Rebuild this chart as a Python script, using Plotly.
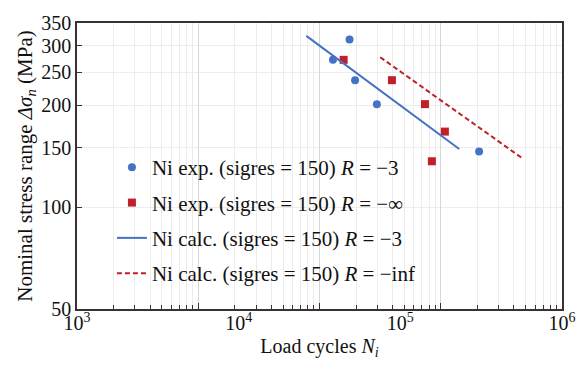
import plotly.graph_objects as go

# Data (x on the labelled scale)
exp_r3_N = [48500, 38300, 52500, 71600, 307000]
exp_r3_S = [312.9, 272.4, 237.2, 201.5, 145.9]
exp_rinf_N = [44600, 88700, 142000, 188600, 156700]
exp_rinf_S = [272.4, 237.2, 201.5, 167.2, 136.6]
calc_r3_N = [26200, 231400]
calc_r3_S = [320.6, 148.5]
calc_rinf_N = [75100, 573500]
calc_rinf_S = [277.3, 139.0]

x_tickvals = [1e3, 1e4, 1e5, 1e6]
x_ticktext = ["10<sup>3</sup>", "10<sup>4</sup>", "10<sup>5</sup>", "10<sup>6</sup>"]
y_tickvals = [50, 100, 150, 200, 250, 300, 350]

grid_major = [1e3, 1e4, 1e5, 1e6, 1e7]
grid_minor = [m * 10 ** e for e in range(3, 7) for m in range(2, 10)]

BLUE = "#4472c4"
RED = "#c0202a"
FONT = "Liberation Serif"
AX = "#3a3232"

fig = go.Figure()
# empty helper trace so the grid axis (x2) gets its own subplot layer
fig.add_trace(go.Scatter(x=[1e3, 1e7], y=[None, None], xaxis="x2", yaxis="y", mode="markers",
                         showlegend=False, hoverinfo="skip"))
fig.add_trace(go.Scatter(x=exp_r3_N, y=exp_r3_S, mode="markers", legendgroup="a",
                         name="Ni exp. (sigres = 150) <i>R</i> = −3",
                         marker=dict(symbol="circle", size=8, color=BLUE)))
fig.add_trace(go.Scatter(x=exp_rinf_N, y=exp_rinf_S, mode="markers", legendgroup="b",
                         name="Ni exp. (sigres = 150) <i>R</i> = −∞",
                         marker=dict(symbol="square", size=8, color=RED)))
fig.add_trace(go.Scatter(x=calc_r3_N, y=calc_r3_S, mode="lines", legendgroup="c",
                         name="Ni calc. (sigres = 150) <i>R</i> = −3",
                         line=dict(color=BLUE, width=2)))
fig.add_trace(go.Scatter(x=calc_rinf_N, y=calc_rinf_S, mode="lines", legendgroup="d",
                         name="Ni calc. (sigres = 150) <i>R</i> = −inf",
                         line=dict(color=RED, width=2, dash="5px,3px")))

fig.update_layout(
    width=588, height=365,
    margin=dict(l=77, r=14, t=14, b=56),
    paper_bgcolor="white", plot_bgcolor="white",
    font=dict(family=FONT, size=20, color="#111111"),
    showlegend=True,
    legend=dict(x=0.072, y=0.566, xanchor="left", yanchor="top",
                bgcolor="rgba(0,0,0,0)", font=dict(size=21, family=FONT),
                tracegroupgap=5),
    xaxis=dict(type="log", range=[3, 6], tickvals=x_tickvals, ticktext=x_ticktext,
               ticks="", showgrid=False, zeroline=False, showline=False,
               title=dict(text="Load cycles <i>N</i><sub><i>i</i></sub>", standoff=5,
                          font=dict(family=FONT, size=20)),
               tickfont=dict(size=20, family=FONT)),
    xaxis2=dict(type="log", range=[3, 7], overlaying="x", side="bottom", anchor="y",
                tickvals=grid_major, showticklabels=False, ticks="inside", ticklen=6,
                tickcolor=AX, showgrid=True, gridcolor="#d6d6d6", gridwidth=1,
                minor=dict(tickvals=grid_minor, ticks="inside", ticklen=4, tickcolor=AX,
                           showgrid=True, gridcolor="#ececec", gridwidth=1),
                showline=True, linecolor=AX, linewidth=1.5, mirror=True, zeroline=False),
    yaxis=dict(type="log", range=[1.69897, 2.544068], tickvals=y_tickvals,
               ticktext=[str(v) for v in y_tickvals],
               ticks="inside", ticklen=5, tickcolor=AX,
               showgrid=True, gridcolor="#ececec", gridwidth=1,
               showline=True, linecolor=AX, linewidth=1.5, mirror=True, zeroline=False,
               title=dict(text="Nominal stress range <i>Δσ</i><sub><i>n</i></sub> (MPa)", standoff=3,
                          font=dict(family=FONT, size=21)),
               tickfont=dict(size=20, family=FONT)),
)

fig.write_html("out.html")
